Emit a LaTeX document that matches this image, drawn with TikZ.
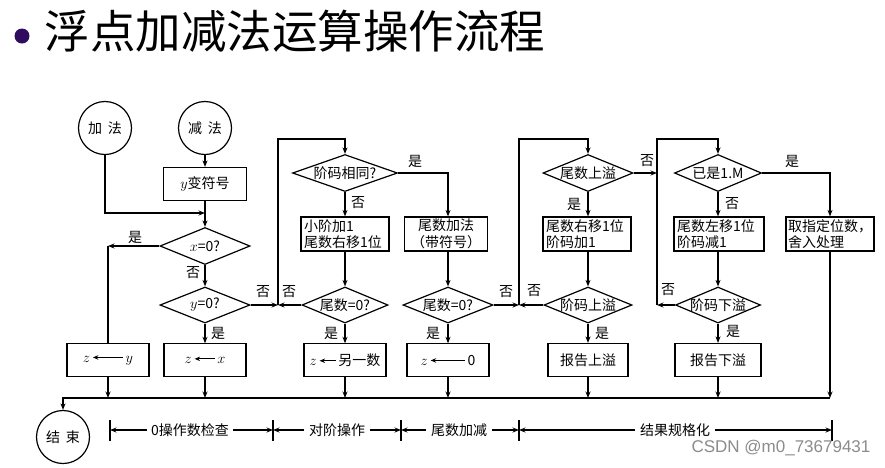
\documentclass[tikz,border=0pt]{standalone}
\usepackage{fontspec}
\setmainfont{Noto Sans CJK SC}
\newfontfamily\wmfont{Liberation Sans}
\usetikzlibrary{shapes.geometric,arrows.meta}
\newcommand\fs{\fontsize{14}{16.5}\selectfont}
\newcommand\dimfs{\fontsize{14}{16}\selectfont}
\newcommand\zarrow[1]{\,\tikz[baseline=-0.6ex,x=1pt,y=1pt]\draw[-{Stealth[length=5.5pt,width=4.5pt]},line width=0.9pt] (#1,0) -- (0,0);\,}
\definecolor{bulletc}{RGB}{48,12,96}
\begin{document}
\begin{tikzpicture}[x=1pt,y=-1pt,line width=1.2pt,
  arr/.style={-{Stealth[length=6.5pt,width=5pt]}},
  circ/.style={draw,circle,minimum size=53pt,inner sep=0pt,font=\fs},
  box/.style={draw,minimum width=#1,minimum height=33pt,inner sep=2pt,font=\fs,align=center},
  lbox/.style={draw,text width=#1,align=left,minimum height=34pt,inner xsep=3pt,inner ysep=1pt,font=\fs},
  dia/.style n args={2}{draw,diamond,inner sep=0pt,minimum width=#1,minimum height=#2},
  every label/.style={font=\fs},
  yn/.style={font=\fs,inner sep=1pt},
  dimlab/.style={font=\dimfs,inner sep=4pt,fill=white}]
\useasboundingbox (0,0) rectangle (885,467);
\fill[white] (0,0) rectangle (885,467);

% title
\fill[bulletc] (22,36) circle (7.5);
\node[anchor=west,inner sep=0pt,font=\fontsize{45.5}{48}\selectfont] (title) at (44,31) {浮点加减法运算操作流程};

% column 1
\node[circ] (jia) at (105,128) {加\hspace{6pt}法};
\node[circ] (jian) at (205,128) {减\hspace{6pt}法};
\node[box=83pt] (ybox) at (205,184) {$y$变符号};
\node[dia={90pt}{37pt},label=center:{$x$=0?}] (dx) at (205,246) {};
\node[dia={90pt}{36pt},label=center:{$y$=0?}] (dy) at (205,305) {};
\node[box=82pt] (zy) at (108,360) {$z$\zarrow{30}$y$};
\node[box=82pt] (zx) at (205,360) {$z$\zarrow{20}$x$};

% column 2
\node[dia={105pt}{37pt},label=center:{阶码相同?}] (dsame) at (345,173) {};
\node[lbox=82pt] (bshift) at (345,234) {小阶加1\\尾数右移1位};
\node[box=83pt,minimum height=34pt,inner ysep=1pt] (badd) at (446,234) {尾数加法\\（带符号）};
\node[dia={86pt}{36pt},label=center:{尾数=0?}] (dz1) at (345,305) {};
\node[dia={90pt}{36pt},label=center:{尾数=0?}] (dz2) at (448,305) {};
\node[box=82pt] (zother) at (345,360) {$z$\zarrow{16}另一数};
\node[box=82pt] (zzero) at (448,360) {$z$\zarrow{34}0};

% column 3
\node[dia={90pt}{37pt},label=center:{尾数上溢}] (dovf) at (588,173) {};
\node[lbox=82pt] (bmr) at (587,234) {尾数右移1位\\阶码加1};
\node[dia={88pt}{36pt},label=center:{阶码上溢}] (deovf) at (588,305) {};
\node[box=80pt] (rovf) at (588,360) {报告上溢};

% column 4
\node[dia={87pt}{37pt},label=center:{已是1.M}] (dnorm) at (718,173) {};
\node[lbox=84pt] (bml) at (719,234) {尾数左移1位\\阶码减1};
\node[dia={85pt}{36pt},label=center:{阶码下溢}] (deunf) at (718,305) {};
\node[box=86pt] (runf) at (718,360) {报告下溢};
\node[lbox=84pt,inner xsep=2pt] (bround) at (830,234) {取指定位数，\\舍入处理};

% end
\node[circ] (fin) at (63,437) {结\hspace{6pt}束};

% coordinates
\coordinate (m1) at (205,213);
\coordinate (c1) at (108,246);
\coordinate (c3) at (278,305);
\coordinate (t1) at (278,139);
\coordinate (c4) at (519,305);
\coordinate (t2) at (519,139);
\coordinate (c5) at (657,173);
\coordinate (c6) at (657,305);
\coordinate (t3) at (657,139);
\coordinate (b0) at (63,398);
\coordinate (b1) at (108,398);
\coordinate (b2) at (205,398);
\coordinate (b3) at (345,398);
\coordinate (b4) at (448,398);
\coordinate (b5) at (588,398);
\coordinate (b6) at (718,398);
\coordinate (b8) at (830,398);

% column 1 connectors
\draw[arr] (jian.south) -- (ybox.north);
\draw[arr] (jia.south) |- (m1);
\draw[arr] (ybox.south) -- (dx.north);
\draw[arr] (dx.west) -- (c1);
\draw (c1) -- (zy.north);
\draw[arr] (dx.south) -- (dy.north);
\draw[arr] (dy.south) -- (zx.north);
\draw[arr] (dy.east) -- (c3);
\node[yn] (y1) at (135,237) {是};
\node[yn] (n1) at (193,273) {否};
\node[yn] (y2) at (218,333) {是};
\node[yn] (n2) at (263,292) {否};

% column 2 connectors
\draw[arr] (c3) -- (t1) -| (dsame.north);
\draw[arr] (dsame.south) -- (bshift.north);
\draw[arr] (dsame.east) -| (badd.north -| dz2.north);
\draw[arr] (bshift.south) -- (dz1.north);
\draw[arr] (badd.south -| dz2.north) -- (dz2.north);
\draw[arr] (dz1.west) -- (c3);
\draw[arr] (dz1.south) -- (zother.north);
\draw[arr] (dz2.south) -- (zzero.north);
\draw[arr] (dz2.east) -- (c4);
\node[yn] (n3) at (358,203) {否};
\node[yn] (y3) at (415,161) {是};
\node[yn] (n4) at (289,292) {否};
\node[yn] (y4) at (331,333) {是};
\node[yn] (y5) at (433,333) {是};
\node[yn] (n5) at (506,292) {否};

% column 3 connectors
\draw[arr] (c4) -- (t2) -| (dovf.north);
\draw[arr] (dovf.south) -- (bmr.north -| dovf.south);
\draw[arr] (dovf.east) -- (c5);
\draw[arr] (bmr.south -| deovf.north) -- (deovf.north);
\draw[arr] (deovf.west) -- (c4);
\draw[arr] (deovf.south) -- (rovf.north);
\node[yn] (y6) at (574,204) {是};
\node[yn] (n6) at (647,161) {否};
\node[yn] (n7) at (534,291) {否};
\node[yn] (y7) at (602,333) {是};

% column 4 connectors
\draw[arr] (c6) -- (t3) -| (dnorm.north);
\draw[arr] (dnorm.south) -- (bml.north -| dnorm.south);
\draw[arr] (dnorm.east) -| (bround.north);
\draw[arr] (bml.south -| deunf.north) -- (deunf.north);
\draw[arr] (deunf.west) -- (c6);
\draw[arr] (deunf.south) -- (runf.north);
\node[yn] (n8) at (732,204) {否};
\node[yn] (y8) at (792,161) {是};
\node[yn] (n9) at (668,290) {否};
\node[yn] (y9) at (733,331) {是};

% bus
\draw[arr] (zy.south) -- (b1);
\draw[arr] (zx.south) -- (b2);
\draw[arr] (zother.south) -- (b3);
\draw[arr] (zzero.south) -- (b4);
\draw[arr] (rovf.south) -- (b5);
\draw[arr] (runf.south) -- (b6);
\draw[arr] (bround.south) -- (b8);
\draw[arr] (b8) -- (b0) -- (fin.north);

% dimension line
\coordinate (k1) at (110,430);
\coordinate (k2) at (273,430);
\coordinate (k3) at (401,430);
\coordinate (k4) at (519,430);
\coordinate (k5) at (832,430);
\foreach \k in {k1,k2,k3,k4,k5} \draw ([yshift=10pt]\k) -- ([yshift=-11pt]\k);
\node[dimlab] (d1) at (190,430) {0操作数检查};
\node[dimlab] (d2) at (337,430) {对阶操作};
\node[dimlab] (d3) at (459,430) {尾数加减};
\node[dimlab] (d4) at (675,430) {结果规格化};
\draw[arr] (d1) -- (k1);
\draw[arr] (d1) -- (k2);
\draw[arr] (d2) -- (k2);
\draw[arr] (d2) -- (k3);
\draw[arr] (d3) -- (k3);
\draw[arr] (d3) -- (k4);
\draw[arr] (d4) -- (k4);
\draw[arr] (d4) -- (k5);

% watermark
\node[font=\wmfont\fontsize{17}{18}\selectfont,text=black!45,inner sep=0pt] (wm) at (781,448) {CSDN @m0\_73679431};
\end{tikzpicture}
\end{document}
